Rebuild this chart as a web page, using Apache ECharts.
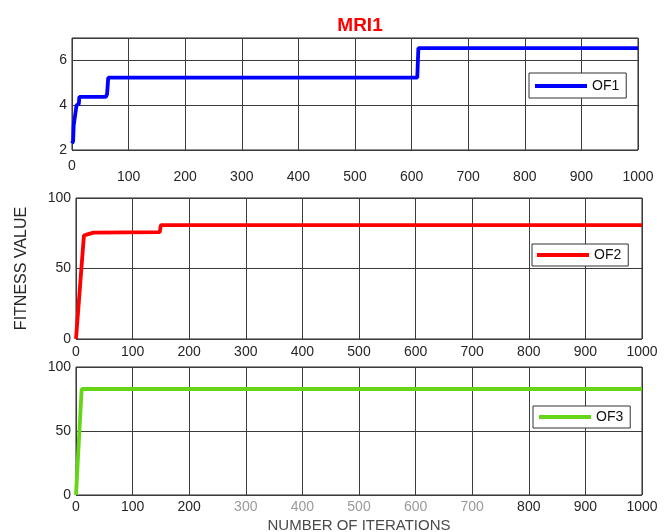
<!DOCTYPE html>
<html>
<head>
<meta charset="utf-8">
<script src="https://cdn.jsdelivr.net/npm/echarts@6/dist/echarts.min.js"></script>
<style>
  html, body { margin: 0; padding: 0; background: #fff; }
  #chart { width: 668px; height: 532px; }
</style>
</head>
<body>
<div id="chart"></div>
<script>
// values (iteration, fitness)
const iterOF1 = [0, 2, 3, 6, 8, 12, 13, 60, 62, 64, 610, 612, 1000]
const valOF1 = [2.3, 2.4, 3.1, 3.1, 4.0, 4.05, 4.37, 4.37, 4.5, 5.23, 5.23, 6.55, 6.55]
const iterOF2 = [0, 14, 20, 31, 148, 150, 1000]
const valOF2 = [0, 73.4, 74.2, 75.4, 75.8, 80.8, 80.8]
const iterOF3 = [0, 10, 1000]
const valOF3 = [0, 82.8, 82.8]
const seriesNames = ['OF1', 'OF2', 'OF3']
const seriesColors = ['#0000ff', '#ff0000', '#66d516']
const fadedTicks = [300, 400, 500, 600, 700]

const FONT = '"Liberation Sans", Arial, sans-serif'
const TXT = '#262626'

function pairs(xs, ys) { return xs.map((x, i) => [x, ys[i]]) }

const chart = echarts.init(document.getElementById('chart'), null, { renderer: 'canvas' })

// keep the grids where they are put, labels may spill over the edge
const gridBox = { show: true, borderColor: '#222', borderWidth: 1, backgroundColor: '#fff', outerBoundsMode: 'none', containLabel: false }
const splitLine = { show: true, lineStyle: { color: '#3c3c3c', width: 1 } }

function xAxisOf(idx, extra) {
  return Object.assign({
    type: 'value', gridIndex: idx, min: 0, max: 1000, interval: 100,
    axisLine: { show: false }, axisTick: { show: false },
    splitLine: splitLine,
    axisLabel: { color: TXT, fontSize: 14, fontFamily: FONT, margin: 6, formatter: v => String(v) }
  }, extra || {})
}

function yAxisOf(idx, min, max, interval, extra) {
  return Object.assign({
    type: 'value', gridIndex: idx, min: min, max: max, interval: interval,
    axisLine: { show: false }, axisTick: { show: false },
    splitLine: splitLine,
    axisLabel: { color: TXT, fontSize: 14, fontFamily: FONT, margin: 5, showMaxLabel: max % interval === 0 }
  }, extra || {})
}

function legendOf(i, left, top, pad) {
  return {
    data: [seriesNames[i]], left: left, top: top,
    padding: pad, borderWidth: 1, borderColor: '#333', backgroundColor: '#fff',
    icon: 'rect', itemWidth: 52, itemHeight: 4, itemGap: 0,
    textStyle: { color: '#111', fontSize: 14, fontFamily: FONT, padding: [0, 0, 0, 0] },
    selectedMode: false
  }
}

function lineSeries(i, data) {
  return {
    name: seriesNames[i], type: 'line', xAxisIndex: i, yAxisIndex: i,
    data: data, showSymbol: false, symbol: 'none',
    lineStyle: { color: seriesColors[i], width: 3.8 },
    itemStyle: { color: seriesColors[i] }
  }
}

chart.setOption({
  animation: false,
  backgroundColor: '#fff',
  title: {
    text: 'MRI1', left: 355, top: 11, textAlign: 'center',
    textStyle: { color: '#ff0000', fontSize: 19, fontWeight: 'bold', fontFamily: FONT }
  },
  grid: [
    Object.assign({ left: 72, right: 30, top: 38, height: 112 }, gridBox),
    Object.assign({ left: 76, right: 26, top: 198, height: 141 }, gridBox),
    Object.assign({ left: 76, right: 26, top: 367, height: 128 }, gridBox)
  ],
  xAxis: [
    xAxisOf(0, {
      axisLabel: {
        color: TXT, fontSize: 14, fontFamily: FONT, margin: 11, lineHeight: 11,
        formatter: v => v === 0 ? '0' : '\n' + v
      }
    }),
    xAxisOf(1),
    xAxisOf(2, {
      name: 'NUMBER OF ITERATIONS', nameLocation: 'middle', nameGap: 23,
      nameTextStyle: { color: '#4a4a4a', fontSize: 15, fontFamily: FONT },
      axisLabel: {
        color: TXT, fontSize: 14, fontFamily: FONT, margin: 5,
        formatter: v => fadedTicks.indexOf(v) >= 0 ? '{g|' + v + '}' : String(v),
        rich: { g: { color: '#9a9a9a', fontSize: 14, fontFamily: FONT } }
      }
    })
  ],
  yAxis: [
    yAxisOf(0, 2, 7, 2),
    yAxisOf(1, 0, 100, 50, {
      name: 'FITNESS VALUE', nameLocation: 'middle', nameGap: 46, nameRotate: 90,
      nameTextStyle: { color: TXT, fontSize: 16, fontFamily: FONT }
    }),
    yAxisOf(2, 0, 100, 50)
  ],
  legend: [
    legendOf(0, 529, 73, [6, 7, 5, 6]),
    legendOf(1, 532, 244, [4, 7, 4, 5]),
    legendOf(2, 533, 406, [4, 7, 4, 6])
  ],
  series: [
    lineSeries(0, pairs(iterOF1, valOF1)),
    lineSeries(1, pairs(iterOF2, valOF2)),
    lineSeries(2, pairs(iterOF3, valOF3))
  ]
})
</script>
</body>
</html>
